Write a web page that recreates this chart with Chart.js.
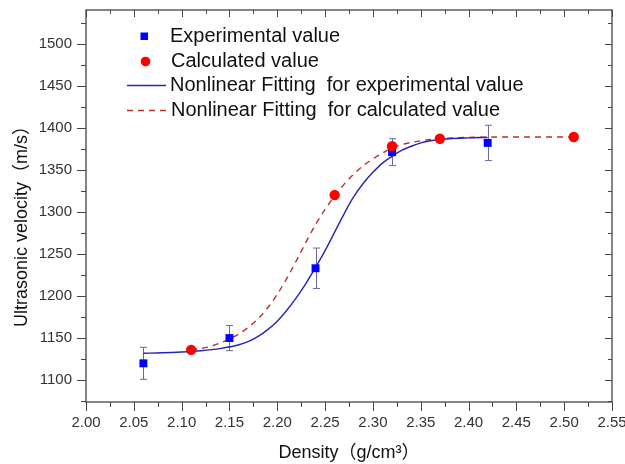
<!DOCTYPE html>
<html>
<head>
<meta charset="utf-8">
<script src="https://cdn.jsdelivr.net/npm/chart.js@4.4.1/dist/chart.umd.min.js"></script>
<style>
  html, body { margin: 0; padding: 0; background: #fff; }
  #wrap { width: 625px; height: 464px; position: relative; }
</style>
</head>
<body>
<div id="wrap"><canvas id="velocityChart"></canvas></div>
<script>
// measured points
const expDensity = [2.06, 2.15, 2.24, 2.32, 2.42];
const expVelocity = [1120, 1150, 1233, 1371, 1382];
const expError = [19, 15, 24, 16, 21];

const calcDensity = [2.11, 2.26, 2.32, 2.37, 2.51];
const calcVelocity = [1136, 1320, 1378, 1387, 1389];

// fitted curves
const fitExpDensity = [2.06, 2.08, 2.10, 2.12, 2.14, 2.16, 2.17, 2.18, 2.19, 2.20, 2.21, 2.22, 2.23, 2.24, 2.25, 2.26, 2.27, 2.28, 2.29, 2.30, 2.31, 2.32, 2.33, 2.34, 2.35, 2.36, 2.38, 2.40, 2.42];
const fitExpVelocity = [1132, 1132.5, 1133.5, 1135, 1137.5, 1142, 1146, 1152, 1160, 1170, 1183, 1198, 1215, 1234, 1254, 1276, 1298, 1318, 1334, 1347, 1358, 1366, 1373, 1378, 1382, 1384.5, 1387, 1388, 1388.5];

const fitCalcDensity = [2.11, 2.13, 2.15, 2.16, 2.17, 2.18, 2.19, 2.20, 2.21, 2.22, 2.23, 2.24, 2.25, 2.26, 2.27, 2.28, 2.29, 2.30, 2.31, 2.32, 2.33, 2.35, 2.37, 2.40, 2.45, 2.51];
const fitCalcVelocity = [1136, 1140, 1149, 1155, 1163, 1173, 1186, 1202, 1221, 1242, 1264, 1285, 1303, 1319, 1333, 1345, 1355, 1363, 1370, 1376, 1380, 1384.5, 1387, 1388.5, 1389, 1389];

const xTicks = [2.00, 2.05, 2.10, 2.15, 2.20, 2.25, 2.30, 2.35, 2.40, 2.45, 2.50, 2.55];
const yTicks = [1100, 1150, 1200, 1250, 1300, 1350, 1400, 1450, 1500];

const legendLabels = [
    'Experimental value',
    'Calculated value',
    'Nonlinear Fitting  for experimental value',
    'Nonlinear Fitting  for calculated value'
];
const yTitle = 'Ultrasonic velocity（m/s）';
const xTitle = 'Density（g/cm³）';

const FONT = "'Liberation Sans', Arial, 'Noto Sans CJK SC', sans-serif";
Chart.defaults.font.family = FONT;

const toXY = (xs, ys) => xs.map((v, i) => ({ x: v, y: ys[i] }));

const zeroPad = s => { s.paddingLeft = 0; s.paddingRight = 0; s.paddingTop = 0; s.paddingBottom = 0; };

// error bars for the experimental points
const errorBars = {
    id: 'errorBars',
    beforeDatasetsDraw(chart) {
        const { ctx, scales: { x, y } } = chart;
        ctx.save();
        ctx.strokeStyle = '#6868a6';
        ctx.lineWidth = 1;
        expDensity.forEach((d, i) => {
            const px = Math.round(x.getPixelForValue(d)) + 0.5;
            const hi = y.getPixelForValue(expVelocity[i] + expError[i]);
            const lo = y.getPixelForValue(expVelocity[i] - expError[i]);
            ctx.beginPath();
            ctx.moveTo(px, hi); ctx.lineTo(px, lo);
            ctx.moveTo(px - 3.5, hi); ctx.lineTo(px + 3.5, hi);
            ctx.moveTo(px - 3.5, lo); ctx.lineTo(px + 3.5, lo);
            ctx.stroke();
        });
        ctx.restore();
    }
};

// box frame with major / minor ticks on all four sides, plus the y title
const frame = {
    id: 'frame',
    afterDatasetsDraw(chart) {
        const { ctx, chartArea: { left, right, top, bottom }, scales: { x, y } } = chart;
        ctx.save();
        ctx.strokeStyle = '#444';
        ctx.lineWidth = 1.3;
        ctx.strokeRect(left, top, right - left, bottom - top);

        const xStep = xTicks[1] - xTicks[0];
        const yStep = yTicks[1] - yTicks[0];
        ctx.beginPath();
        xTicks.forEach(v => {
            [[v, 9, 7], [v + xStep / 2, 5, 4]].forEach(([t, outLen, inLen]) => {
                if (t > x.max + 1e-9) return;
                const px = Math.round(x.getPixelForValue(t)) + 0.5;
                ctx.moveTo(px, bottom); ctx.lineTo(px, bottom + outLen);
                ctx.moveTo(px, top); ctx.lineTo(px, top + inLen);
            });
        });
        [yTicks[0] - yStep].concat(yTicks).forEach(v => {
            [[v, 9, 7], [v + yStep / 2, 5, 4]].forEach(([t, outLen, inLen]) => {
                if (t < y.min || t > y.max) return;
                const py = Math.round(y.getPixelForValue(t)) + 0.5;
                ctx.moveTo(left, py); ctx.lineTo(left - outLen, py);
                ctx.moveTo(right, py); ctx.lineTo(right - inLen, py);
            });
        });
        ctx.lineWidth = 1;
        ctx.stroke();

        // y axis title sits a little below the middle of the axis
        ctx.translate(22, 222);
        ctx.rotate(-Math.PI / 2);
        ctx.font = '18px ' + FONT;
        ctx.fillStyle = '#111';
        ctx.textAlign = 'center';
        ctx.textBaseline = 'middle';
        ctx.fillText(yTitle, 0, 0);
        ctx.restore();
    }
};

// legend in the upper left of the plot
const boxLegend = {
    id: 'boxLegend',
    afterDraw(chart) {
        const { ctx } = chart;
        const rows = [36, 61, 85.5, 110];
        ctx.save();
        ctx.font = '20px ' + FONT;
        ctx.fillStyle = '#111';
        ctx.textBaseline = 'middle';
        legendLabels.forEach((t, i) => {
            ctx.fillText(t, i === 1 || i === 3 ? 171 : 170, rows[i]);
        });

        ctx.fillStyle = '#0000ff';
        ctx.fillRect(140.5, 32.5, 7.5, 7.5);
        ctx.fillStyle = '#ff0000';
        ctx.beginPath();
        ctx.arc(145.5, 61.5, 4.8, 0, Math.PI * 2);
        ctx.fill();

        ctx.lineWidth = 1.4;
        ctx.strokeStyle = '#2424b8';
        ctx.beginPath(); ctx.moveTo(127, 85.5); ctx.lineTo(166, 85.5); ctx.stroke();
        ctx.strokeStyle = '#b8302f';
        ctx.setLineDash([6, 5]);
        ctx.beginPath(); ctx.moveTo(127, 110.5); ctx.lineTo(167, 110.5); ctx.stroke();
        ctx.restore();
    }
};

const ctx = document.getElementById('velocityChart').getContext('2d');
const velocityChart = new Chart(ctx, {
    type: 'scatter',
    data: {
        datasets: [{
            label: legendLabels[0],
            data: toXY(expDensity, expVelocity),
            order: 1,
            pointStyle: 'rect',
            pointRadius: 5.6,
            backgroundColor: '#0000ff',
            borderColor: '#0000ff',
            borderWidth: 0
        }, {
            label: legendLabels[1],
            data: toXY(calcDensity, calcVelocity),
            order: 0,
            pointStyle: 'circle',
            pointRadius: 5.2,
            backgroundColor: '#ff0000',
            borderColor: '#ff0000',
            borderWidth: 0
        }, {
            label: legendLabels[2],
            data: toXY(fitExpDensity, fitExpVelocity),
            order: 2,
            showLine: true,
            pointRadius: 0,
            borderColor: '#2424b8',
            borderWidth: 1.4,
            cubicInterpolationMode: 'monotone'
        }, {
            label: legendLabels[3],
            data: toXY(fitCalcDensity, fitCalcVelocity),
            order: 3,
            showLine: true,
            pointRadius: 0,
            borderColor: '#b8302f',
            borderWidth: 1.4,
            borderDash: [6, 5],
            cubicInterpolationMode: 'monotone'
        }]
    },
    options: {
        responsive: true,
        maintainAspectRatio: false,
        animation: false,
        layout: { padding: { top: 10, right: 13, left: 0, bottom: 0 } },
        plugins: {
            legend: { display: false },
            tooltip: { enabled: false }
        },
        scales: {
            x: {
                type: 'linear',
                min: 2.0,
                max: 2.55,
                afterBuildTicks: s => { s.ticks = xTicks.map(v => ({ value: v })); },
                afterFit: s => { s.height = 62; zeroPad(s); },
                grid: { display: false, drawTicks: false },
                border: { display: false },
                ticks: {
                    padding: 12,
                    color: '#333',
                    font: { size: 15 },
                    maxRotation: 0,
                    autoSkip: false,
                    callback: v => v.toFixed(2)
                },
                title: {
                    display: true,
                    text: xTitle,
                    color: '#111',
                    font: { size: 18 },
                    padding: { top: 0, bottom: 0 }
                }
            },
            y: {
                type: 'linear',
                min: 1074,
                max: 1540,
                afterBuildTicks: s => { s.ticks = yTicks.map(v => ({ value: v })); },
                afterFit: s => { s.width = 86; zeroPad(s); },
                grid: { display: false, drawTicks: false },
                border: { display: false },
                ticks: {
                    padding: 14,
                    color: '#333',
                    font: { size: 15 },
                    autoSkip: false,
                    callback: v => String(v)
                },
                title: { display: false }
            }
        }
    },
    plugins: [errorBars, frame, boxLegend]
});
</script>
</body>
</html>
